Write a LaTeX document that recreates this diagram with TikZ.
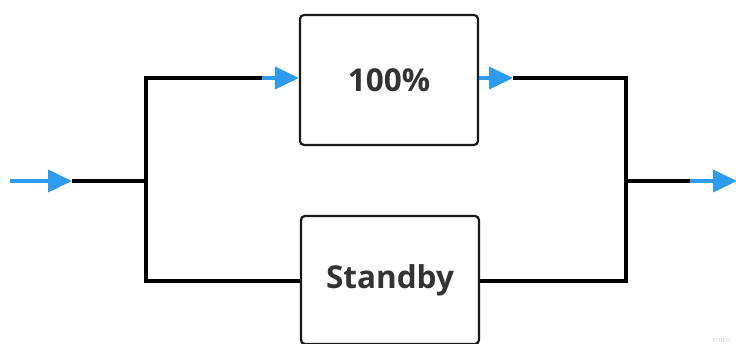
\documentclass[tikz,border=0pt]{standalone}
\usepackage{fontspec}
\setmainfont{Open Sans}
\usetikzlibrary{arrows.meta}
\definecolor{flowblue}{HTML}{2D9BF0}
\definecolor{txtgray}{HTML}{333333}
\tikzset{
  blockbox/.style={draw=black!90, line width=2.2pt, rounded corners=4pt, fill=white,
    minimum width=178pt, minimum height=130pt, inner sep=0pt,
    font=\bfseries\fontsize{31.5}{36}\selectfont, text=txtgray},
  wire/.style={draw=black, line width=4pt},
  flow/.style={draw=flowblue, line width=4pt, -{Triangle[length=24pt,width=22pt]}},
}
\begin{document}
\begin{tikzpicture}[x=1pt,y=-1pt]
\useasboundingbox (0,0) rectangle (736,344);
\clip (0,0) rectangle (736,344);
% nodes
\node[blockbox] (top) at (389,80) {100\%};
\node[blockbox, minimum height=128pt] (bot) at (390,280) {Standby};
% coordinates
\coordinate (in) at (10,181);
\coordinate (inE) at (72,181);
\coordinate (jl) at (146,181);
\coordinate (jlt) at (146,78);
\coordinate (jlb) at (146,281);
\coordinate (tA) at (262,78);
\coordinate (tB) at (513,78);
\coordinate (jr) at (626,181);
\coordinate (jrt) at (626,78);
\coordinate (jrb) at (626,281);
\coordinate (oS) at (690,181);
\coordinate (out) at (737,181);
% black wires
\draw[wire] (inE) -- (jl);
\draw[wire, line join=miter] (tA) -- (jlt) -- (jlb) -- (bot.west |- jlb);
\draw[wire, line join=miter] (tB) -- (jrt) -- (jrb) -- (bot.east |- jrb);
\draw[wire] (jr) -- (oS);
% blue arrows
\draw[flow] (in) -- (inE);
\draw[flow] (tA) -- (top.west |- tA);
\draw[flow] (top.east |- tB) -- (tB);
\draw[flow] (oS) -- (out);
% watermark
\node[text=black!15, font=\fontsize{8}{9}\selectfont, anchor=south east] (mark) at (734,346) {miro};
\end{tikzpicture}
\end{document}
